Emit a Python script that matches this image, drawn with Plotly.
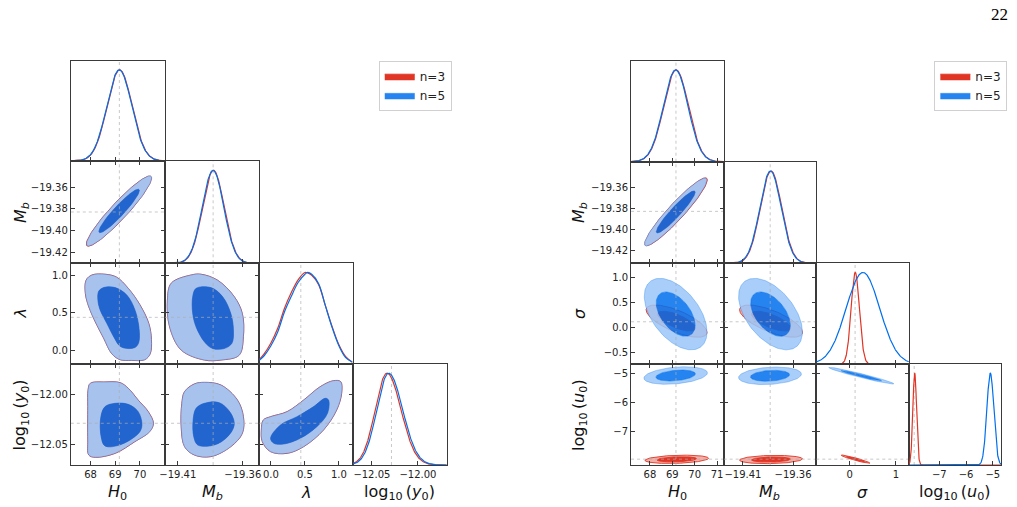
import numpy as np
import plotly.graph_objects as go

W, H = 1017, 507

# ====================== DATA ======================
series_names = ["n=3", "n=5"]

# ---------- left triangle plot : H0, M_b, lambda, log10(y0) ----------
L_labels = ["<i>H</i><sub>0</sub>", "<i>M</i><sub><i>b</i></sub>", "<i>λ</i>",
            "log<sub>10</sub>\u2009(<i>y</i><sub>0</sub>)"]
L_markers = [69.169, -19.3828, 0.44, -12.0287]

L_H0_ticks = [68, 69, 70]
L_H0_ticklabels = ["68", "69", "70"]
L_Mb_xticks = [-19.41, -19.36]
L_Mb_xticklabels = ["\u221219.41", "\u221219.36"]
L_Mb_yticks = [-19.42, -19.40, -19.38, -19.36]
L_Mb_yticklabels = ["\u221219.42", "\u221219.40", "\u221219.38", "\u221219.36"]
L_lam_ticks = [0.0, 0.5, 1.0]
L_lam_ticklabels = ["0.0", "0.5", "1.0"]
L_y0_ticks = [-12.05, -12.00]
L_y0_ticklabels = ["\u221212.05", "\u221212.00"]

# 1D marginals (n=3, n=5)
L_H0_mean = [69.18, 69.165]
L_H0_sd = [0.505, 0.505]
L_Mb_mean = [-19.3826, -19.3829]
L_Mb_sd = [0.0083, 0.0083]
L_lam_grid = [-0.17, -0.10, 0.00, 0.10, 0.20, 0.30, 0.40, 0.50, 0.54, 0.60, 0.70, 0.80, 0.90, 1.00, 1.10, 1.20]
L_lam_dens_n3 = [0.05, 0.11, 0.23, 0.39, 0.61, 0.78, 0.92, 1.00, 0.995, 0.97, 0.87, 0.64, 0.41, 0.21, 0.08, 0.02]
L_lam_dens_n5 = [0.04, 0.09, 0.20, 0.35, 0.57, 0.74, 0.89, 0.98, 1.00, 0.98, 0.88, 0.64, 0.40, 0.20, 0.07, 0.02]
L_y0_mode = [-12.0336, -12.0318]
L_y0_sd_low = [0.0128, 0.0128]
L_y0_sd_high = [0.0152, 0.0152]

# 2D: H0 - Mb (gaussian contours)
L_H0Mb_mean = [[69.15, -19.3820], [69.16, -19.3818]]
L_H0Mb_sd = [[0.541, 0.01325], [0.541, 0.01325]]
L_H0Mb_rho = [0.94, 0.94]

# 2D outlines (95% / 68%), identical for n=3 and n=5
L_H0lam_out_H0 = [67.82, 68.06, 68.59, 69.06, 69.53, 70.00, 70.36, 70.47, 70.42, 70.20, 69.67, 69.20, 68.86, 68.53, 68.19, 67.93, 67.79]
L_H0lam_out_lam = [0.94, 1.01, 1.02, 0.98, 0.83, 0.61, 0.36, 0.14, -0.05, -0.13, -0.14, -0.13, -0.05, 0.16, 0.38, 0.58, 0.76]
L_H0lam_in_H0 = [68.33, 68.53, 69.00, 69.47, 69.80, 69.96, 69.96, 69.83, 69.53, 69.20, 68.97, 68.66, 68.39, 68.30]
L_H0lam_in_lam = [0.79, 0.84, 0.84, 0.74, 0.54, 0.31, 0.11, 0.04, 0.02, 0.05, 0.16, 0.36, 0.54, 0.67]

L_Mblam_out_Mb = [-19.3997, -19.4150, -19.4180, -19.4163, -19.4074, -19.3895, -19.3768, -19.3628, -19.3595, -19.3603, -19.3666, -19.3794, -19.3921]
L_Mblam_out_lam = [1.01, 0.90, 0.67, 0.31, 0.00, -0.135, -0.135, -0.07, 0.18, 0.49, 0.72, 0.94, 1.02]
L_Mblam_in_Mb = [-19.3959, -19.3845, -19.3756, -19.3692, -19.3672, -19.3684, -19.3743, -19.3832, -19.3895, -19.3959, -19.3985, -19.3985]
L_Mblam_in_lam = [0.83, 0.84, 0.72, 0.49, 0.27, 0.09, 0.02, 0.02, 0.11, 0.31, 0.49, 0.72]

L_H0y0_out_H0 = [67.99, 68.59, 69.20, 69.53, 69.93, 70.34, 70.55, 70.40, 69.80, 69.00, 68.19, 67.93, 67.89, 67.89, 67.90]
L_H0y0_out_y0 = [-11.9882, -11.9868, -11.9875, -11.9932, -12.0051, -12.0169, -12.0287, -12.0372, -12.0473, -12.0592, -12.0632, -12.0609, -12.0456, -12.0118, -11.9949]
L_H0y0_in_H0 = [68.59, 69.00, 69.53, 69.93, 70.08, 70.00, 69.26, 68.59, 68.43, 68.42]
L_H0y0_in_y0 = [-12.0118, -12.0085, -12.0095, -12.0169, -12.0287, -12.0372, -12.0500, -12.0517, -12.0423, -12.0220]

L_Mby0_out_Mb = [-19.4048, -19.3972, -19.3895, -19.3768, -19.3641, -19.3595, -19.3603, -19.3692, -19.3845, -19.3972, -19.4048, -19.4074, -19.4069]
L_Mby0_out_y0 = [-11.9966, -11.9888, -11.9872, -11.9899, -12.0051, -12.0220, -12.0389, -12.0524, -12.0625, -12.0609, -12.0524, -12.0321, -12.0085]
L_Mby0_in_Mb = [-19.3895, -19.3781, -19.3692, -19.3666, -19.3717, -19.3819, -19.3946, -19.3977, -19.3982, -19.3959]
L_Mby0_in_y0 = [-12.0085, -12.0078, -12.0186, -12.0304, -12.0423, -12.0507, -12.0507, -12.0423, -12.0254, -12.0135]

L_lamy0_out_lam = [-0.112, -0.005, 0.238, 0.482, 0.725, 0.920, 1.027, 1.041, 0.968, 0.774, 0.482, 0.238, -0.005, -0.127, -0.141]
L_lamy0_out_y0 = [-12.0254, -12.0220, -12.0169, -12.0051, -11.9916, -11.9855, -11.9865, -11.9983, -12.0152, -12.0355, -12.0524, -12.0592, -12.0575, -12.0473, -12.0355]
L_lamy0_in_lam = [-0.005, 0.141, 0.384, 0.628, 0.798, 0.847, 0.832, 0.676, 0.433, 0.190, 0.044]
L_lamy0_in_y0 = [-12.0439, -12.0304, -12.0220, -12.0118, -12.0034, -12.0051, -12.0186, -12.0321, -12.0439, -12.0497, -12.0490]

# ---------- right triangle plot : H0, M_b, sigma, log10(u0) ----------
R_labels = ["<i>H</i><sub>0</sub>", "<i>M</i><sub><i>b</i></sub>", "<i>σ</i>",
            "log<sub>10</sub>\u2009(<i>u</i><sub>0</sub>)"]
R_markers = [69.164, -19.3828, 0.115, -7.94]

R_H0_ticks = [68, 69, 70, 71]
R_H0_ticklabels = ["68", "69", "70", "71"]
R_Mb_xticks = [-19.41, -19.36]
R_Mb_xticklabels = ["\u221219.41", "\u221219.36"]
R_Mb_yticks = [-19.42, -19.40, -19.38, -19.36]
R_Mb_yticklabels = ["\u221219.42", "\u221219.40", "\u221219.38", "\u221219.36"]
R_sig_xticks = [0, 1]
R_sig_xticklabels = ["0", "1"]
R_sig_yticks = [-0.5, 0.0, 0.5, 1.0]
R_sig_yticklabels = ["\u22120.5", "0.0", "0.5", "1.0"]
R_u0_ticks = [-7, -6, -5]
R_u0_ticklabels = ["\u22127", "\u22126", "\u22125"]

R_H0_mean = [69.17, 69.15]
R_H0_sd = [0.55, 0.55]
R_Mb_mean = [-19.3820, -19.3825]
R_Mb_sd = [0.0106, 0.0106]
R_sig_mean = [0.119, 0.285]
R_sig_sd = [0.09, 0.365]
R_u0_mean = [-7.92, -5.094]
R_u0_sd = [0.07, 0.13]

R_H0Mb_mean = [[69.17, -19.3832], [69.15, -19.3834]]
R_H0Mb_sd = [[0.57, 0.01335], [0.57, 0.01335]]
R_H0Mb_rho = [0.94, 0.94]
R_H0sig_mean = [[69.19, 0.128], [69.15, 0.268]]
R_H0sig_sd = [[0.555, 0.131], [0.572, 0.291]]
R_H0sig_rho = [-0.70, -0.50]
R_Mbsig_mean = [[-19.3820, 0.128], [-19.3825, 0.268]]
R_Mbsig_sd = [[0.0128, 0.131], [0.0130, 0.291]]
R_Mbsig_rho = [-0.70, -0.50]
R_H0u0_mean = [[69.20, -7.945], [69.15, -5.074]]
R_H0u0_sd = [[0.58, 0.058], [0.58, 0.123]]
R_H0u0_rho = [0.25, 0.30]
R_Mbu0_mean = [[-19.3820, -7.952], [-19.3830, -5.084]]
R_Mbu0_sd = [[0.0128, 0.058], [0.0128, 0.123]]
R_Mbu0_rho = [0.15, 0.20]
R_sigu0_mean = [[0.124, -7.94], [0.25, -5.08]]
R_sigu0_sd = [[0.127, 0.058], [0.288, 0.117]]
R_sigu0_rho = [-0.95, -0.97]

# ====================== STYLE / LAYOUT ======================
FONT = "DejaVu Sans"
AX_COL = "#3a3a3a"
TXT_COL = "#222222"
RED = (224, 52, 36)
BLUE = (0, 111, 237)
SERIES_COLS = [RED, BLUE]
PALE = 0.6
BLUE_ALPHA = 0.85
MARK_COL = "rgba(175,175,175,0.85)"
K68, K95 = np.sqrt(2.2958), np.sqrt(5.9915)
Y1D_TOP = 1.1

L_cols = [65.3, 160.3, 255.3, 349.3, 444.3]
L_rows = [60.7, 161.0, 263.3, 364.0, 465.0]
R_cols = [630.0, 723.3, 816.7, 910.0, 1003.3]
R_rows = [60.7, 161.7, 263.3, 364.0, 465.0]

L_xr = [[67.20, 71.02], [-19.4198, -19.3473], [-0.171, 1.201], [-12.071, -11.9686]]
L_yr = [None, [-19.4302, -19.3357], [-0.188, 1.167], [-12.071, -11.9686]]
R_xr = [[67.16, 71.29], [-19.4292, -19.3369], [-0.726, 1.28], [-8.14, -4.68]]
R_yr = [None, [-19.4328, -19.335], [-0.726, 1.28], [-8.14, -4.68]]


def rgb(c, a=1.0):
    return f"rgba({c[0]},{c[1]},{c[2]},{a})"


def pale(c):
    return tuple(int(round(v * (1 - PALE) + 255 * PALE)) for v in c)


fig = go.Figure()
axes_layout = {}
ax_counter = [0]


def make_panel(xpx, ypx, xr, yr, xt, yt, showx, showy, oned):
    ax_counter[0] += 1
    n = ax_counter[0]
    s = "" if n == 1 else str(n)
    common = dict(showgrid=False, zeroline=False, showline=True, linecolor=AX_COL, linewidth=1,
                  fixedrange=True, tickangle=0,
                  tickfont=dict(family=FONT, size=10, color=TXT_COL))
    xa = dict(common, domain=[xpx[0] / W, xpx[1] / W], range=xr, anchor="y" + s,
              ticks="inside", ticklen=4, tickwidth=1, tickcolor=AX_COL,
              tickmode="array", tickvals=xt[0], ticktext=xt[1], showticklabels=showx,
              mirror=True if oned else "allticks")
    ydom = [1 - ypx[1] / H, 1 - ypx[0] / H]
    if oned:
        ya = dict(common, domain=ydom, range=[0, Y1D_TOP], anchor="x" + s, ticks="",
                  showticklabels=False, mirror=True)
    else:
        ya = dict(common, domain=ydom, range=yr, anchor="x" + s,
                  ticks="inside", ticklen=4, tickwidth=1, tickcolor=AX_COL,
                  tickmode="array", tickvals=yt[0], ticktext=yt[1], showticklabels=showy,
                  mirror="allticks")
    axes_layout["xaxis" + s] = xa
    axes_layout["yaxis" + s] = ya
    return ("x" + s, "y" + s)


def add_line(ax, x, y, color, width, dash=None, shape="linear"):
    fig.add_trace(go.Scatter(x=list(x), y=list(y), mode="lines",
                             line=dict(color=color, width=width, dash=dash, shape=shape),
                             xaxis=ax[0], yaxis=ax[1], showlegend=False, hoverinfo="skip"))


def add_fill(ax, x, y, fillcolor, linecolor, width, shape, legend=None, name=None):
    fig.add_trace(go.Scatter(x=list(x), y=list(y), mode="lines", fill="toself",
                             fillcolor=fillcolor,
                             line=dict(color=linecolor, width=width, shape=shape),
                             xaxis=ax[0], yaxis=ax[1], hoverinfo="skip",
                             showlegend=legend is not None, name=name,
                             legend=legend if legend else "legend"))


def closed(x, y):
    return list(x) + [x[0]], list(y) + [y[0]]


def orient(x, y):
    x = np.asarray(x, float); y = np.asarray(y, float)
    return np.sign(np.sum(x * np.roll(y, -1) - np.roll(x, -1) * y))


def ellipse(mean, sd, rho, k, n=140):
    t = np.linspace(0, 2 * np.pi, n)
    x = mean[0] + k * sd[0] * np.cos(t)
    y = mean[1] + k * sd[1] * (rho * np.cos(t) + np.sqrt(1 - rho ** 2) * np.sin(t))
    return list(x), list(y)


def draw_contours(ax, i, ox, oy, ix, iy, shape, legend=None):
    col = SERIES_COLS[i]
    if orient(ox, oy) == orient(ix, iy):
        ixr, iyr = ix[::-1], iy[::-1]
    else:
        ixr, iyr = ix, iy
    ox, oy = closed(ox, oy)
    ixc, iyc = closed(ix, iy)
    ixr, iyr = closed(ixr, iyr)
    if i == 0:
        add_fill(ax, ox, oy, rgb(pale(col)), rgb(col), 0.9, shape)
        add_fill(ax, ixc, iyc, rgb(col), rgb(col), 0.9, shape, legend, series_names[i] if legend else None)
    else:
        add_fill(ax, ox + [None] + ixr, oy + [None] + iyr, rgb(pale(col), BLUE_ALPHA),
                 rgb(col, 0.5), 0.6, shape)
        add_fill(ax, ixc, iyc, rgb(col, BLUE_ALPHA), rgb(col, 0.5), 0.5, shape,
                 legend, series_names[i] if legend else None)


def build(cols, rows, xr, yr, xt, yt, markers, oned, twod, labels, ylab_x, legend_id):
    for r in range(4):
        for c in range(r + 1):
            isd = (r == c)
            ax = make_panel((cols[c], cols[c + 1]), (rows[r], rows[r + 1]), xr[c], yr[r],
                            xt[c], yt[r], r == 3, (c == 0 and r > 0), isd)
            if isd:
                add_line(ax, [markers[c]] * 2, [0, Y1D_TOP], MARK_COL, 0.8, "dot")
                kind = oned[c]
                for i in range(2):
                    if kind[0] == "gauss":
                        xs = np.linspace(xr[c][0], xr[c][1], 400)
                        ys = np.exp(-0.5 * ((xs - kind[1][i]) / kind[2][i]) ** 2)
                        add_line(ax, xs, ys, rgb(SERIES_COLS[i]), 1.2)
                    elif kind[0] == "split":
                        xs = np.linspace(xr[c][0], xr[c][1], 400)
                        sd = np.where(xs < kind[1][i], kind[2][i], kind[3][i])
                        ys = np.exp(-0.5 * ((xs - kind[1][i]) / sd) ** 2)
                        add_line(ax, xs, ys, rgb(SERIES_COLS[i]), 1.2)
                    else:
                        add_line(ax, kind[1], kind[2 + i], rgb(SERIES_COLS[i]), 1.2, shape="spline")
            else:
                spec = twod[(r, c)]
                leg = legend_id if (r, c) == (1, 0) else None
                for i in range(2):
                    if spec[0] == "gauss":
                        ox, oy = ellipse(spec[1][i], spec[2][i], spec[3][i], K95)
                        ix, iy = ellipse(spec[1][i], spec[2][i], spec[3][i], K68)
                        draw_contours(ax, i, ox, oy, ix, iy, "linear", leg)
                    else:
                        draw_contours(ax, i, spec[1], spec[2], spec[3], spec[4], "spline", leg)
                add_line(ax, [markers[c]] * 2, yr[r], MARK_COL, 0.8, "dot")
                add_line(ax, xr[c], [markers[r]] * 2, MARK_COL, 0.8, "dot")
    ann = []
    for c in range(4):
        ann.append(dict(x=(cols[c] + cols[c + 1]) / 2 / W, y=1 - 492 / H, xref="paper", yref="paper",
                        text=labels[c], showarrow=False, font=dict(family=FONT, size=16, color="#111"),
                        xanchor="center", yanchor="middle"))
    for r in range(1, 4):
        ann.append(dict(x=ylab_x / W, y=1 - (rows[r] + rows[r + 1]) / 2 / H, xref="paper", yref="paper",
                        text=labels[r], showarrow=False, textangle=-90,
                        font=dict(family=FONT, size=16, color="#111"),
                        xanchor="center", yanchor="middle"))
    return ann


# ---------- left ----------
L_xt = [(L_H0_ticks, L_H0_ticklabels), (L_Mb_xticks, L_Mb_xticklabels),
        (L_lam_ticks, L_lam_ticklabels), (L_y0_ticks, L_y0_ticklabels)]
L_yt = [None, (L_Mb_yticks, L_Mb_yticklabels), (L_lam_ticks, L_lam_ticklabels),
        (L_y0_ticks, L_y0_ticklabels)]
L_1d = [("gauss", L_H0_mean, L_H0_sd), ("gauss", L_Mb_mean, L_Mb_sd),
        ("grid", L_lam_grid, L_lam_dens_n3, L_lam_dens_n5),
        ("split", L_y0_mode, L_y0_sd_low, L_y0_sd_high)]
L_2d = {
    (1, 0): ("gauss", L_H0Mb_mean, L_H0Mb_sd, L_H0Mb_rho),
    (2, 0): ("poly", L_H0lam_out_H0, L_H0lam_out_lam, L_H0lam_in_H0, L_H0lam_in_lam),
    (2, 1): ("poly", L_Mblam_out_Mb, L_Mblam_out_lam, L_Mblam_in_Mb, L_Mblam_in_lam),
    (3, 0): ("poly", L_H0y0_out_H0, L_H0y0_out_y0, L_H0y0_in_H0, L_H0y0_in_y0),
    (3, 1): ("poly", L_Mby0_out_Mb, L_Mby0_out_y0, L_Mby0_in_Mb, L_Mby0_in_y0),
    (3, 2): ("poly", L_lamy0_out_lam, L_lamy0_out_y0, L_lamy0_in_lam, L_lamy0_in_y0),
}
ann_left = build(L_cols, L_rows, L_xr, L_yr, L_xt, L_yt, L_markers, L_1d, L_2d, L_labels, 15, "legend")

# ---------- right ----------
R_xt = [(R_H0_ticks, R_H0_ticklabels), (R_Mb_xticks, R_Mb_xticklabels),
        (R_sig_xticks, R_sig_xticklabels), (R_u0_ticks, R_u0_ticklabels)]
R_yt = [None, (R_Mb_yticks, R_Mb_yticklabels), (R_sig_yticks, R_sig_yticklabels),
        (R_u0_ticks, R_u0_ticklabels)]
R_1d = [("gauss", R_H0_mean, R_H0_sd), ("gauss", R_Mb_mean, R_Mb_sd),
        ("gauss", R_sig_mean, R_sig_sd), ("gauss", R_u0_mean, R_u0_sd)]
R_2d = {
    (1, 0): ("gauss", R_H0Mb_mean, R_H0Mb_sd, R_H0Mb_rho),
    (2, 0): ("gauss", R_H0sig_mean, R_H0sig_sd, R_H0sig_rho),
    (2, 1): ("gauss", R_Mbsig_mean, R_Mbsig_sd, R_Mbsig_rho),
    (3, 0): ("gauss", R_H0u0_mean, R_H0u0_sd, R_H0u0_rho),
    (3, 1): ("gauss", R_Mbu0_mean, R_Mbu0_sd, R_Mbu0_rho),
    (3, 2): ("gauss", R_sigu0_mean, R_sigu0_sd, R_sigu0_rho),
}
ann_right = build(R_cols, R_rows, R_xr, R_yr, R_xt, R_yt, R_markers, R_1d, R_2d, R_labels, 578, "legend2")

page_ann = [dict(x=1001 / W, y=1 - 14 / H, xref="paper", yref="paper", text="22", showarrow=False,
                 font=dict(family="Liberation Serif", size=17, color="#000"),
                 xanchor="center", yanchor="middle")]

legend_common = dict(xanchor="left", yanchor="top", bgcolor="white", bordercolor="#d0d0d0",
                     borderwidth=1, font=dict(family=FONT, size=12, color=TXT_COL),
                     itemwidth=30, tracegroupgap=0)

fig.update_layout(
    width=W, height=H, margin=dict(l=0, r=0, t=0, b=0),
    paper_bgcolor="white", plot_bgcolor="rgba(0,0,0,0)",
    font=dict(family=FONT, color=TXT_COL),
    showlegend=True,
    legend=dict(legend_common, x=375.7 / W, y=1 - 60.7 / H),
    legend2=dict(legend_common, x=935.7 / W, y=1 - 60.7 / H),
    annotations=ann_left + ann_right + page_ann,
    **axes_layout,
)

fig.write_html("out.html")
